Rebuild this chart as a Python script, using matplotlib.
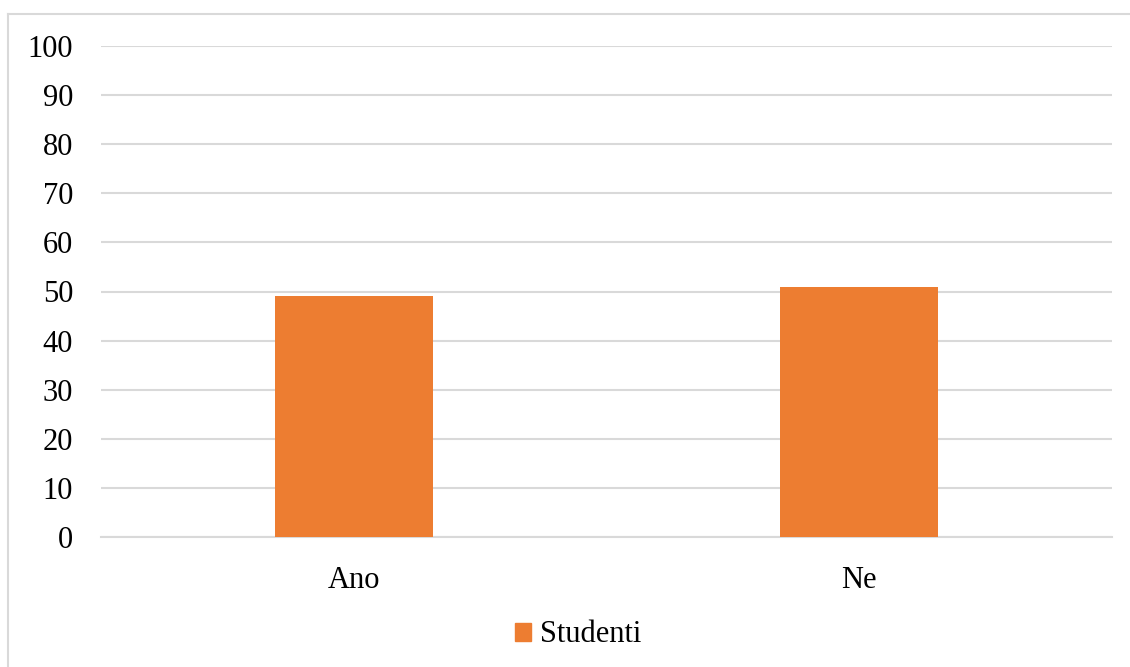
import matplotlib
matplotlib.use("Agg")
import matplotlib.pyplot as plt
from matplotlib.patches import Rectangle
from matplotlib.lines import Line2D

categories = ["Ano", "Ne"]
values = [49, 51]
series_name = "Studenti"
yticks = [0, 10, 20, 30, 40, 50, 60, 70, 80, 90, 100]

plt.rcParams['font.family'] = ['Liberation Serif', 'DejaVu Serif']

W, H = 1130, 667
fig = plt.figure(figsize=(W/100, H/100), dpi=100)
ax = fig.add_axes([101/W, 1-537/H, (1112-101)/W, (537-46)/H])

color = "#ED7D31"
x = list(range(len(categories)))
ax.bar(x, values, width=0.3125, color=color, zorder=3, label=series_name)
ax.set_xlim(-0.5, len(categories)-0.5)
ax.set_ylim(0, 100)
ax.set_yticks(yticks)
ax.set_xticks(x)
ax.set_xticklabels(categories)
ax.grid(axis='y', color='#d9d9d9', linewidth=1.5, zorder=0)
for s in ['top', 'left', 'right']:
    ax.spines[s].set_visible(False)
ax.spines['bottom'].set_color('#d9d9d9')
ax.spines['bottom'].set_linewidth(1.5)
ax.tick_params(axis='both', length=0, labelsize=22, colors='black')
ax.tick_params(axis='y', pad=20)
ax.tick_params(axis='x', pad=21)

fig.legend(handles=[Rectangle((0, 0), 1, 1, color=color)], labels=[series_name],
           loc='center', bbox_to_anchor=(578/W, 1-635/H), frameon=False,
           fontsize=22, handlelength=0.52, handleheight=0.52, handletextpad=0.3)

# outer border
fig.add_artist(Line2D([7.5/W, 7.5/W], [0, 1-14/H], transform=fig.transFigure,
                      color='#d9d9d9', linewidth=1.5))
fig.add_artist(Line2D([7.5/W, 1], [1-14/H, 1-14/H], transform=fig.transFigure,
                      color='#d9d9d9', linewidth=1.5))

fig.savefig("out.png", dpi=100)
